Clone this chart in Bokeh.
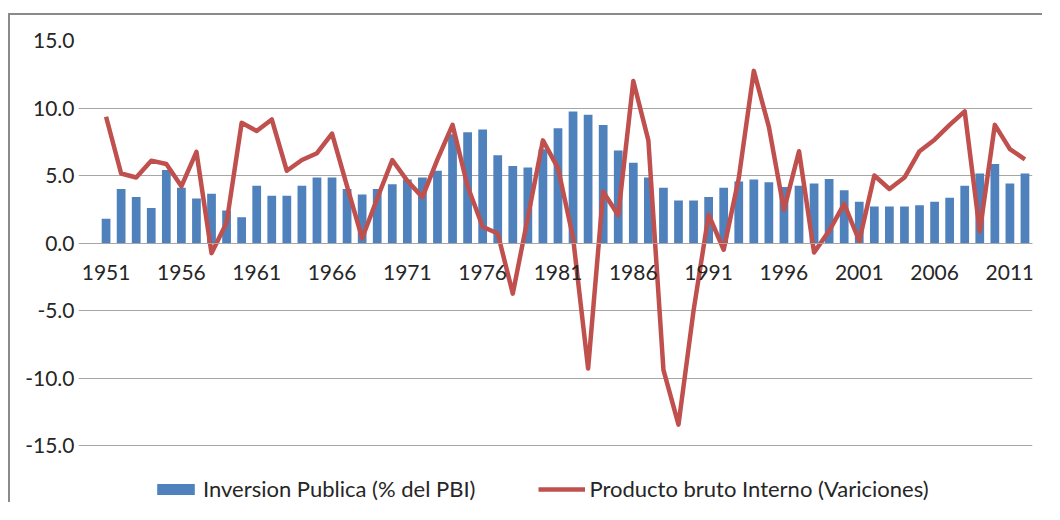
from bokeh.plotting import figure
from bokeh.models import Range1d, FixedTicker, NumeralTickFormatter, Legend, LegendItem, ColumnDataSource
from bokeh.embed import file_html
from bokeh.resources import INLINE

# ---- data ----
years = list(range(1951, 2013))
inversion = [1.8, 4.0, 3.4, 2.6, 5.4, 4.1, 3.3, 3.65, 2.4, 1.9,
             4.25, 3.5, 3.5, 4.25, 4.85, 4.85, 4.0, 3.6, 4.0, 4.35,
             4.7, 4.85, 5.35, 8.05, 8.2, 8.4, 6.5, 5.7, 5.6, 6.95,
             8.5, 9.75, 9.5, 8.75, 6.85, 5.95, 4.85, 4.1, 3.15, 3.15,
             3.4, 4.1, 4.55, 4.7, 4.5, 4.15, 4.25, 4.4, 4.75, 3.9,
             3.05, 2.7, 2.7, 2.7, 2.8, 3.05, 3.35, 4.25, 5.15, 5.85,
             4.4, 5.15]
pbi = [9.35, 5.15, 4.85, 6.1, 5.85, 4.2, 6.75, -0.75, 1.5, 8.9,
       8.3, 9.15, 5.35, 6.15, 6.65, 8.1, 4.2, 0.35, 3.3, 6.15,
       4.6, 3.4, 6.2, 8.75, 4.2, 1.2, 0.7, -3.75, 1.9, 7.6,
       5.55, 0.4, -9.3, 3.8, 2.05, 12.0, 7.6, -9.4, -13.45, -5.0,
       2.1, -0.5, 4.8, 12.75, 8.6, 2.45, 6.8, -0.7, 0.9, 2.9,
       0.15, 5.0, 4.0, 4.85, 6.8, 7.65, 8.75, 9.75, 0.85, 8.75,
       6.95, 6.2]
x_ticks = [1951, 1956, 1961, 1966, 1971, 1976, 1981, 1986, 1991, 1996, 2001, 2006, 2011]
y_ticks = [-15, -10, -5, 0, 5, 10, 15]
label_inv = "Inversion Publica (% del PBI)"
label_pbi = "Producto bruto Interno (Variciones)"

src = ColumnDataSource(dict(year=years, inv=inversion, pbi=pbi))

FONT = "Lato"
TXT = "#262626"
GRID = "#a6a6a6"
X0, X1 = 1950.5, 2012.5

p = figure(width=1034, height=489, output_backend="svg", toolbar_location=None,
           x_range=Range1d(1949.17, X1), y_range=Range1d(-19.37, 15),
           min_border_left=68, min_border_right=12, min_border_top=25, min_border_bottom=0,
           styles={"border-top": "2px solid #8a8a8a", "border-left": "2px solid #8a8a8a",
                   "margin-top": "13px", "margin-left": "8px"})
p.outline_line_color = None
p.background_fill_color = "white"
p.border_fill_color = "white"

bars = p.vbar(x="year", top="inv", bottom=0, width=0.58, fill_color="#4F81BD",
              line_color=None, source=src)
line = p.line(x="year", y="pbi", line_color="#C0504D", line_width=4.5,
              line_join="round", source=src)

# x axis at zero
xa = p.xaxis[0]
xa.fixed_location = 0
xa.bounds = (X0, X1)
xa.ticker = FixedTicker(ticks=x_ticks)
xa.axis_line_color = GRID
xa.axis_line_width = 1
xa.major_tick_out = 0
xa.major_tick_in = 0
xa.minor_tick_out = 0
xa.minor_tick_in = 0
xa.major_label_standoff = 22
xa.major_label_text_font = FONT
xa.major_label_text_font_size = "21px"
xa.major_label_text_color = TXT

ya = p.yaxis[0]
ya.ticker = FixedTicker(ticks=y_ticks)
ya.formatter = NumeralTickFormatter(format="0.0")
ya.axis_line_color = None
ya.major_tick_out = 0
ya.major_tick_in = 0
ya.minor_tick_out = 0
ya.minor_tick_in = 0
ya.major_label_standoff = 4
ya.major_label_text_font = FONT
ya.major_label_text_font_size = "21px"
ya.major_label_text_color = TXT

p.xgrid.visible = False
p.ygrid.ticker = FixedTicker(ticks=y_ticks)
p.ygrid.bounds = (X0, X1)
p.ygrid.grid_line_color = GRID
p.ygrid.grid_line_width = 1

legend = Legend(items=[LegendItem(label=label_inv, renderers=[bars]),
                       LegendItem(label=label_pbi, renderers=[line])],
                orientation="horizontal", location=(74, 2),
                glyph_width=47, glyph_height=14, label_standoff=4, spacing=63,
                padding=0, margin=0, border_line_color=None, background_fill_alpha=0,
                label_text_font=FONT, label_text_font_size="22px",
                label_text_color=TXT)
p.add_layout(legend)

open("out.html", "w").write(file_html(p, INLINE))
